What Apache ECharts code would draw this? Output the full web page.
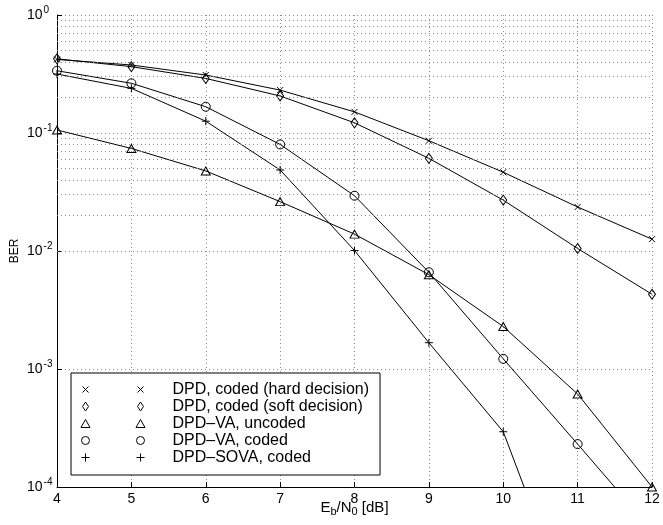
<!DOCTYPE html>
<html>
<head>
<meta charset="utf-8">
<script src="https://cdn.jsdelivr.net/npm/echarts@6/dist/echarts.min.js"></script>
<style>
html, body { margin: 0; padding: 0; background: #fff; }
#chart { width: 663px; height: 525px; }
</style>
</head>
<body>
<div id="chart"></div>
<script>
// Eb/N0 in dB
var ebn0 = [4, 5, 6, 7, 8, 9, 10, 11, 12];
// BER curves
var hardDecision = [0.42, 0.377, 0.31, 0.231, 0.151, 0.086, 0.0465, 0.0236, 0.0126];
var softDecision = [0.425, 0.365, 0.29, 0.206, 0.122, 0.061, 0.027, 0.0105, 0.0043];
var vaUncoded = [0.106, 0.074, 0.0477, 0.0262, 0.0139, 0.0063, 0.00229, 0.000614, 0.0001];
var vaCoded = [0.337, 0.264, 0.167, 0.080, 0.0294, 0.0066, 0.00122, 0.000231, 0.000043];
var sovaCoded = [0.316, 0.239, 0.126, 0.0486, 0.0101, 0.00167, 0.000294, 0.0000063];
var seriesNames = ['DPD, coded (hard decision)', 'DPD, coded (soft decision)', 'DPD\u2013VA, uncoded', 'DPD\u2013VA, coded', 'DPD\u2013SOVA, coded'];
// minor grid lines of the log axis
var decades = [1e-4, 1e-3, 1e-2, 1e-1];
var minorSteps = [2, 3, 4, 5, 6, 7, 8, 9];

var font = 'Liberation Sans, Arial, Helvetica, sans-serif';

function pairs(ys) {
  var out = [];
  for (var i = 0; i < ys.length; i++) out.push([ebn0[i], ys[i]]);
  return out;
}

var minorLines = [];
decades.forEach(function (d) {
  minorSteps.forEach(function (m) { minorLines.push({ yAxis: d * m }); });
});

// marker shapes
var sym = {
  x: 'path://M0,0L6,6M6,0L0,6',
  diamond: 'path://M3,0L6,5L3,10L0,5Z',
  triangle: 'path://M4.5,0L9,8L0,8Z',
  circle: 'path://M8,4A4,4,0,1,1,0,4A4,4,0,1,1,8,4Z',
  plus: 'path://M4,0L4,8M0,4L8,4'
};
var symSize = { x: [6, 6], diamond: [7, 10], triangle: [9, 8], circle: [9, 9], plus: [8, 8] };

// legend icons: two markers, MATLAB style
var legendIcons = [
  'path://M0,0M66,10M2,2L8,8M8,2L2,8M57,2L63,8M63,2L57,8',
  'path://M0,0M66,10M5,0.5L8,5L5,9.5L2,5ZM60,0.5L63,5L60,9.5L57,5Z',
  'path://M0,0M66,10M5,1L9.5,9L0.5,9ZM60,1L64.5,9L55.5,9Z',
  'path://M0,0M66,10M9,5A4,4,0,1,1,1,5A4,4,0,1,1,9,5ZM64,5A4,4,0,1,1,56,5A4,4,0,1,1,64,5Z',
  'path://M0,0M66,10M5,1L5,9M1,5L9,5M60,1L60,9M56,5L64,5'
];

var curves = [hardDecision, softDecision, vaUncoded, vaCoded, sovaCoded];
var shapes = ['x', 'diamond', 'triangle', 'circle', 'plus'];

var series = curves.map(function (c, i) {
  return {
    name: seriesNames[i],
    type: 'line',
    data: pairs(c),
    symbol: sym[shapes[i]],
    symbolSize: symSize[shapes[i]],
    clip: true,
    lineStyle: { color: '#000', width: 1 },
    itemStyle: { color: 'transparent', borderColor: '#000', borderWidth: 1 },
    emphasis: { disabled: true }
  };
});

series.push({
  type: 'line',
  data: [],
  silent: true,
  markLine: {
    silent: true,
    symbol: 'none',
    label: { show: false },
    lineStyle: { color: '#8a8a8a', type: [1, 3], width: 1 },
    data: minorLines
  }
});

var myChart = echarts.init(document.getElementById('chart'));
var option = {
  animation: false,
  backgroundColor: '#fff',
  textStyle: { fontFamily: font, color: '#000' },
  grid: { left: 57, right: 11, top: 15, bottom: 38, containLabel: false, outerBoundsMode: 'none' },
  legend: {
    orient: 'vertical',
    left: 71,
    top: 373,
    padding: [8, 11, 9, 9],
    itemWidth: 66,
    itemHeight: 10,
    itemGap: 0,
    selectedMode: false,
    backgroundColor: '#fff',
    borderColor: '#000',
    borderWidth: 1,
    borderRadius: 0,
    textStyle: { fontFamily: font, fontSize: 16, color: '#000', lineHeight: 17, padding: [0, 0, 0, 21] },
    itemStyle: { color: 'transparent', borderColor: '#000', borderWidth: 1 },
    data: seriesNames.map(function (n, i) { return { name: n, icon: legendIcons[i] }; })
  },
  xAxis: {
    type: 'value',
    min: 4,
    max: 12,
    interval: 1,
    name: '{a|E}{s|b}{a|/N}{s|0}{a| [dB]}',
    nameLocation: 'middle',
    nameGap: 12,
    nameMoveOverlap: false,
    nameTextStyle: {
      verticalAlign: 'top',
      rich: {
        a: { fontFamily: font, fontSize: 15, color: '#000' },
        s: { fontFamily: font, fontSize: 11, color: '#000', verticalAlign: 'bottom', padding: [7, 0, 0, 0] }
      }
    },
    axisLine: { lineStyle: { color: '#000', width: 1 } },
    axisTick: { inside: true, length: 5, lineStyle: { color: '#000' } },
    axisLabel: { fontFamily: font, fontSize: 14, color: '#000', margin: 5 },
    splitLine: { show: true, lineStyle: { color: '#8a8a8a', type: [1, 3], width: 1 } }
  },
  yAxis: {
    type: 'log',
    logBase: 10,
    min: 1e-4,
    max: 1,
    name: 'BER',
    nameLocation: 'middle',
    nameGap: 36,
    nameMoveOverlap: false,
    nameTextStyle: { fontFamily: font, fontSize: 12, color: '#000' },
    axisLine: { show: true, lineStyle: { color: '#000', width: 1 } },
    axisTick: { inside: true, length: 5, lineStyle: { color: '#000' } },
    axisLabel: {
      margin: 30,
      align: 'left',
      formatter: function (v) {
        var e = Math.round(Math.log(v) / Math.LN10);
        return '{b|10}{s|' + (e === 0 ? '0' : String(e)) + '}';
      },
      rich: {
        b: { fontFamily: font, fontSize: 14, color: '#000' },
        s: { fontFamily: font, fontSize: 10, color: '#000', padding: [0, 0, 10, 1] }
      }
    },
    splitLine: { show: true, lineStyle: { color: '#8a8a8a', type: [1, 3], width: 1 } }
  },
  series: series
};
myChart.setOption(option);
</script>
</body>
</html>
